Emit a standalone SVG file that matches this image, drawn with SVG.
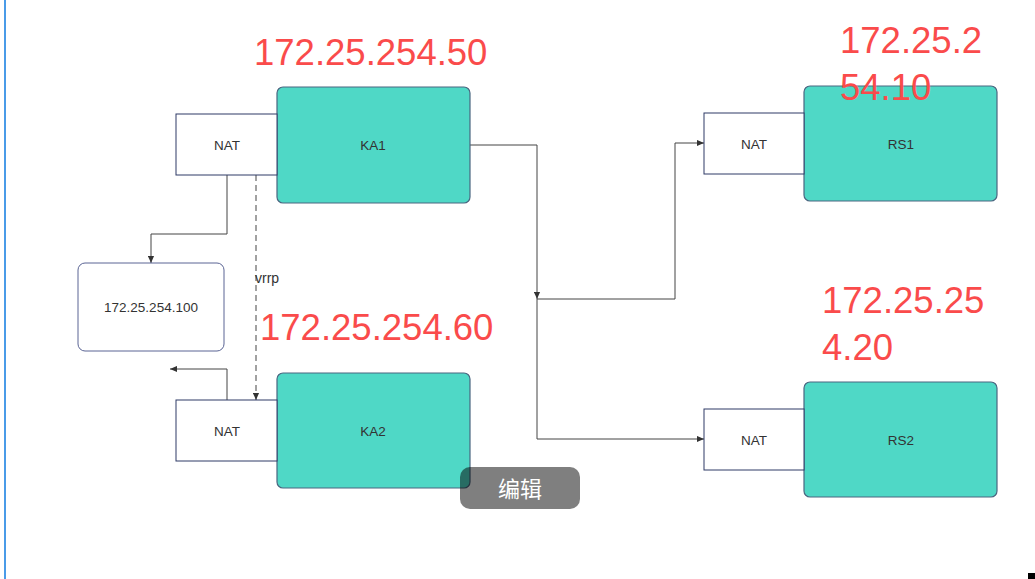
<svg xmlns="http://www.w3.org/2000/svg" width="1035" height="579" viewBox="0 0 1035 579">
<defs>
<style>
.bg{fill:#ffffff}
.srv{fill:#4fd8c6;stroke:#4a6680;stroke-width:1.2}
.nat{fill:#ffffff;stroke:#2e3a66;stroke-width:1}
.vip{fill:#ffffff;stroke:#5a6494;stroke-width:1}
.lbl{font-family:"Liberation Sans",Arial,sans-serif;font-size:13.5px;fill:#333333;text-anchor:middle}
.ip{font-family:"Liberation Sans",Arial,sans-serif;font-size:36.5px;fill:#fa4b4b}
.ln{fill:none;stroke:#444444;stroke-width:1}
.dash{fill:none;stroke:#444444;stroke-width:1;stroke-dasharray:6,4}
</style>
<marker id="arr" viewBox="0 0 8 8" refX="8" refY="4" markerWidth="7" markerHeight="7" orient="auto" markerUnits="userSpaceOnUse">
<path d="M0,0.5 L8,4 L0,7.5 Z" fill="#333333"/>
</marker>
</defs>
<rect class="bg" x="0" y="0" width="1035" height="579"/>
<rect x="4" y="0" width="2" height="579" fill="#4a9be8"/>

<g id="connectors">
<path class="ln" d="M470,145 H537 V299" marker-end="url(#arr)"/>
<path class="ln" d="M537,299 H675 V143 H704" marker-end="url(#arr)"/>
<path class="ln" d="M537,299 V439 H704" marker-end="url(#arr)"/>
<path class="ln" d="M227,175 V234 H151 V263" marker-end="url(#arr)"/>
<path class="dash" d="M256,175 V400" marker-end="url(#arr)"/>
<path class="ln" d="M227,400 V369 H170" marker-end="url(#arr)"/>
<text x="255" y="283" font-family="Liberation Sans, Arial, sans-serif" font-size="14" fill="#333333">vrrp</text>
</g>

<g id="ka1">
<rect class="srv" x="277" y="87" width="193" height="116" rx="6"/>
<rect class="nat" x="176" y="114" width="101" height="61"/>
<text class="lbl" x="227" y="150">NAT</text>
<text class="lbl" x="373" y="150">KA1</text>
<text class="ip" x="254" y="65">172.25.254.50</text>
</g>

<g id="ka2">
<rect class="srv" x="277" y="373" width="193" height="115" rx="6"/>
<rect class="nat" x="176" y="400" width="101" height="61"/>
<text class="lbl" x="227" y="436">NAT</text>
<text class="lbl" x="373" y="436">KA2</text>
<text class="ip" x="260" y="340">172.25.254.60</text>
</g>

<g id="vip">
<rect class="vip" x="78" y="263" width="146" height="88" rx="7"/>
<text class="lbl" x="151" y="312">172.25.254.100</text>
</g>

<g id="rs1">
<rect class="srv" x="804" y="86" width="193" height="115" rx="6"/>
<rect class="nat" x="704" y="113" width="100" height="61"/>
<text class="lbl" x="754" y="149">NAT</text>
<text class="lbl" x="901" y="149">RS1</text>
<text class="ip" x="840" y="53">172.25.2</text>
<text class="ip" x="840" y="100">54.10</text>
</g>

<g id="rs2">
<rect class="srv" x="804" y="382" width="193" height="115" rx="6"/>
<rect class="nat" x="704" y="409" width="100" height="61"/>
<text class="lbl" x="754" y="445">NAT</text>
<text class="lbl" x="901" y="445">RS2</text>
<text class="ip" x="822" y="313">172.25.25</text>
<text class="ip" x="822" y="360">4.20</text>
</g>

<g id="edit-button">
<rect x="460" y="467" width="120" height="42" rx="10" fill="#000000" fill-opacity="0.5"/>
<text x="520" y="497" font-family="Noto Sans CJK SC, sans-serif" font-size="22" fill="#ffffff" text-anchor="middle">编辑</text>
</g>

<rect x="1028" y="573" width="7" height="6" fill="#000000"/>
</svg>
